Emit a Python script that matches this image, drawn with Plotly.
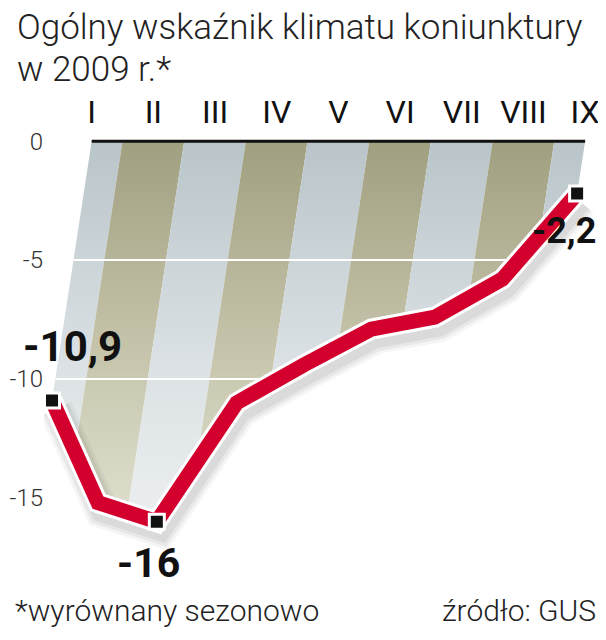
import numpy as np
import plotly.graph_objects as go

# dane: ogólny wskaźnik klimatu koniunktury 2009 (wyrównany sezonowo)
months = ["I", "II", "III", "IV", "V", "VI", "VII", "VIII", "IX"]
values = [-10.9, -15.2, -16.0, -11.0, -9.4, -7.9, -7.4, -5.8, -2.2]
y_ticks = [0, -5, -10, -15]
y_ticktext = ["0", "-5", "-10", "-15"]
grid_lines = [-5, -10]
value_labels = {0: "-10,9", 2: "-16", 8: "-2,2"}

# wygląd (strona ma 8 px marginesu body, więc wykres jest o tyle mniejszy)
OFF = 8
W, H = 606 - OFF, 640 - OFF
PLOT_L, PLOT_T, PLOT_B = 44, 134, 605   # granice obszaru wykresu na stronie
M_L, M_R, M_T, M_B = PLOT_L - OFF, 0, PLOT_T - OFF, 640 - PLOT_B
SHEAR = 0.059  # pochylenie kolumn (miesiące na jednostkę wskaźnika)
FONT = "Roboto, Lato, sans-serif"
RED = "#d3002d"
OLIVE = [[0, "#e4e3d4"], [0.45, "#c8c7ae"], [1, "#a09f80"]]
BLUE = [[0, "#eef1f2"], [0.45, "#dbe1e4"], [1, "#b9c5c9"]]

m = np.arange(1, len(months) + 1, dtype=float)
v = np.array(values)


def sx(month, val):
    # przesunięcie poziome zależne od wartości -> pochylony wykres
    return np.asarray(month) + SHEAR * np.asarray(val)


def xp(px):
    # piksel strony -> współrzędna paper
    return (px - PLOT_L) / (W - M_L - M_R)


def yp(py):
    return (PLOT_B - py) / (PLOT_B - PLOT_T)


fig = go.Figure()

# pasy miesięcy nad linią
for i, mm in enumerate(m):
    a = max(mm - 0.5, m[0])
    b = min(mm + 0.5, m[-1])
    inner = m[(m > a) & (m < b)]
    ms = np.concatenate([[a], inner, [b]])
    vs = np.interp(ms, m, v)
    poly_m = np.concatenate([ms, ms[::-1], [a]])
    poly_v = np.concatenate([np.zeros(len(ms)), vs[::-1], [0]])
    fig.add_trace(go.Scatter(
        x=sx(poly_m, poly_v), y=poly_v,
        mode="none", fill="toself",
        fillgradient=dict(type="vertical", start=-17, stop=0,
                          colorscale=BLUE if i % 2 == 0 else OLIVE),
        hoverinfo="skip", showlegend=False
    ))

# białe linie siatki
for g in grid_lines:
    fig.add_trace(go.Scatter(
        x=sx([m[0], m[-1]], [g, g]), y=[g, g], mode="lines",
        line=dict(color="white", width=2), hoverinfo="skip", showlegend=False
    ))

# linia zera
fig.add_trace(go.Scatter(
    x=[m[0], m[-1]], y=[0, 0], mode="lines",
    line=dict(color="#111111", width=3), hoverinfo="skip", showlegend=False
))

# cień pod linią
for w, a in [(34, 0.04), (28, 0.05), (22, 0.06)]:
    fig.add_trace(go.Scatter(
        x=sx(m, v) + 0.06, y=v - 0.35, mode="lines",
        line=dict(color=f"rgba(0,0,0,{a})", width=w),
        hoverinfo="skip", showlegend=False, cliponaxis=False
    ))

# linia wskaźnika z białą obwódką
fig.add_trace(go.Scatter(
    x=sx(m, v), y=v, mode="lines",
    line=dict(color="white", width=21), hoverinfo="skip",
    showlegend=False, cliponaxis=False
))
fig.add_trace(go.Scatter(
    x=sx(m, v), y=v, mode="lines",
    line=dict(color=RED, width=15), showlegend=False, cliponaxis=False
))

# znaczniki
idx = list(value_labels.keys())
fig.add_trace(go.Scatter(
    x=sx(m[idx], v[idx]), y=v[idx], mode="markers",
    marker=dict(symbol="square", size=15, color="#111111",
                line=dict(color="white", width=3)),
    showlegend=False, cliponaxis=False
))

# etykiety wartości
label_style = {0: (20, 54, 42), 2: (-8, -41, 41), 8: (-13, -38, 36)}
for k, txt in value_labels.items():
    dx, dy, size = label_style[k]
    fig.add_annotation(
        x=float(sx(m[k], v[k])), y=v[k], text=txt, showarrow=False,
        xshift=dx, yshift=dy,
        font=dict(family=FONT, size=size, color="#111111", weight="bold")
    )

# tytuł i podpisy
fig.add_annotation(x=xp(15), y=yp(27), xref="paper", yref="paper",
                   text="Ogólny wskaźnik klimatu koniunktury", showarrow=False,
                   xanchor="left", yanchor="middle",
                   font=dict(family=FONT, size=35, color="#222222", weight=300))
fig.add_annotation(x=xp(15), y=yp(69), xref="paper", yref="paper",
                   text="w 2009 r.*", showarrow=False,
                   xanchor="left", yanchor="middle",
                   font=dict(family=FONT, size=35, color="#222222", weight=300))
fig.add_annotation(x=xp(13), y=yp(610), xref="paper", yref="paper",
                   text="*wyrównany sezonowo", showarrow=False,
                   xanchor="left", yanchor="middle",
                   font=dict(family=FONT, size=30, color="#222222", weight=300))
fig.add_annotation(x=xp(598), y=yp(610), xref="paper", yref="paper",
                   text="źródło: GUS", showarrow=False,
                   xanchor="right", yanchor="middle",
                   font=dict(family=FONT, size=30, color="#222222", weight=300))

fig.update_layout(
    width=W, height=H,
    margin=dict(l=M_L, r=M_R, t=M_T, b=M_B),
    paper_bgcolor="white", plot_bgcolor="white",
    xaxis=dict(range=[0.227, 9.47 - OFF / 60.8], side="top",
               tickvals=m, ticktext=months,
               showgrid=False, zeroline=False, showline=False, ticks="",
               ticklabelstandoff=4,
               tickfont=dict(family=FONT, size=32, color="#111111")),
    yaxis=dict(range=[-19.5, 0.3], tickvals=y_ticks, ticktext=y_ticktext,
               showgrid=False, zeroline=False, showline=False, ticks="",
               tickfont=dict(family=FONT, size=24, color="#333333",
                             weight=300)),
    hovermode=False,
)

fig.write_html("out.html")
